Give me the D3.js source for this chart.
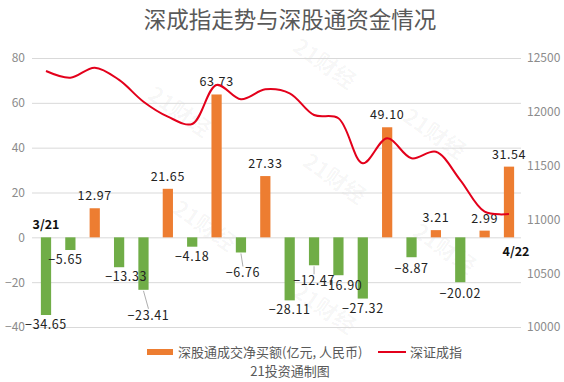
<!DOCTYPE html>
<html><head><meta charset="utf-8">
<script src="https://cdn.jsdelivr.net/npm/d3@7"></script>
<style>
html,body{margin:0;padding:0;background:#fff;}
svg{display:block;font-family:"Noto Sans CJK SC","Noto Sans",sans-serif;}
</style></head>
<body>
<svg id="chart" width="564" height="382"></svg>
<script>
const title = "深成指走势与深股通资金情况";
const dates = ["3/21","3/22","3/23","3/24","3/25","3/28","3/29","3/30","3/31","4/1","4/6","4/7","4/8","4/11","4/12","4/13","4/14","4/20","4/21","4/22"];
const netBuy = [-34.65,-5.65,12.97,-13.33,-23.41,21.65,-4.18,63.73,-6.76,27.33,-28.11,-12.47,-16.90,-27.32,49.10,-8.87,3.21,-20.02,2.99,31.54];
const szIndex = [12379,12317,12410,12296,12094,11955,11887,12249,12116,12209,12172,11970,11940,11521,11754,11568,11629,11366,11072,11050];
const leftTicks = [-40,-20,0,20,40,60,80];
const rightTicks = [10000,10500,11000,11500,12000,12500];
const legendBar = "深股通成交净买额(亿元, 人民币)";
const legendLine = "深证成指";
const credit = "21投资通制图";

const svg = d3.select("#chart");
const plot = {left:32, right:521, top:58, bottom:327};

const x = d3.scalePoint().domain(dates).range([46, 509]);
const step = x.step();
const barW = step * 0.42;
const yL = d3.scaleLinear().domain([-40, 80]).range([plot.bottom, plot.top]);
const yR = d3.scaleLinear().domain([10000, 12500]).range([plot.bottom, plot.top]);

// watermark
const wm = svg.append("g").attr("fill","#000").attr("fill-opacity",0.04)
  .attr("font-size",22).attr("font-weight","bold");
[[175,118],[200,232],[320,70],[330,185],[320,315],[430,140],[440,255]].forEach(p=>{
  wm.append("text").attr("transform",`translate(${p[0]},${p[1]}) rotate(35)`)
    .attr("text-anchor","middle").text("21财经");
});

// title
svg.append("text").attr("x",290).attr("y",28).attr("text-anchor","middle")
  .attr("font-size",22.5).attr("fill","#595959").text(title);

// grid
svg.append("g").selectAll("line").data(leftTicks).join("line")
  .attr("x1",plot.left).attr("x2",plot.right)
  .attr("y1",d=>yL(d)+0.5).attr("y2",d=>yL(d)+0.5)
  .attr("stroke","#d9d9d9").attr("stroke-width",1);

// left axis
const axL = svg.append("g").attr("transform",`translate(${plot.left-7},0)`)
  .call(d3.axisLeft(yL).tickValues(leftTicks).tickSize(0).tickPadding(0).tickFormat(d3.format("d")));
axL.select(".domain").remove();
axL.selectAll("text").attr("fill","#8c8c8c").attr("font-size",12).attr("font-family","Noto Sans CJK SC");

// right axis
const axR = svg.append("g").attr("transform",`translate(${plot.right+6},0)`)
  .call(d3.axisRight(yR).tickValues(rightTicks).tickSize(0).tickPadding(0).tickFormat(d3.format("d")));
axR.select(".domain").remove();
axR.selectAll("text").attr("fill","#8c8c8c").attr("font-size",12).attr("font-family","Noto Sans CJK SC");

// bars
svg.append("g").selectAll("rect").data(netBuy).join("rect")
  .attr("x",(d,i)=>x(dates[i])-barW/2)
  .attr("width",barW)
  .attr("y",d=>d>=0?yL(d):yL(0))
  .attr("height",d=>Math.abs(yL(d)-yL(0)))
  .attr("fill",d=>d>=0?"#ED7D31":"#70AD47");

// bar labels (with small nudges for crowded labels)
const nudge = {4:[5,16], 8:[2,11], 11:[0,6], 12:[3,1], 1:[-5,0], 3:[7,0], 17:[0,2], 15:[0,2]};
const lab = svg.append("g").attr("font-size",12.5).attr("fill","#222");
netBuy.forEach((d,i)=>{
  const cx = x(dates[i]);
  const n = nudge[i] || [0,0];
  const ly = d>=0 ? yL(d)-8 : yL(d)+14 + n[1];
  if (n[1] > 4 && d < 0) {
    lab.append("line").attr("x1",cx).attr("y1",yL(d)+1).attr("x2",cx+n[0]).attr("y2",ly-11)
      .attr("stroke","#999").attr("stroke-width",0.8);
  }
  lab.append("text").attr("x",cx+n[0]).attr("y",ly).attr("text-anchor","middle")
    .attr("letter-spacing",0.6).text(d.toFixed(2).replace("-","−"));
});

// index line
const line = d3.line().x((d,i)=>x(dates[i])).y(d=>yR(d)).curve(d3.curveCatmullRom.alpha(0.5));
svg.append("path").datum(szIndex).attr("d",line).attr("fill","none")
  .attr("stroke","#E3001B").attr("stroke-width",2);

// end date labels
const first = dates[0], last = dates[dates.length-1];
const endLabels = [
  {t:first, x:x(first), y:yL(0)-8},
  {t:last, x:x(last)+7, y:yL(0)+19}
];
endLabels.forEach(e=>{
  const t = svg.append("text").attr("x",e.x).attr("y",e.y).attr("text-anchor","middle")
    .attr("font-size",12.5).attr("font-weight","bold").attr("fill","#111").text(e.t);
  const bb = t.node().getBBox();
  svg.insert("rect", () => t.node()).attr("x",bb.x-2).attr("y",bb.y).attr("width",bb.width+4)
    .attr("height",bb.height).attr("fill","#fff");
});

// legend
const lg = svg.append("g");
lg.append("rect").attr("x",147).attr("y",349).attr("width",26).attr("height",6).attr("fill","#ED7D31");
lg.append("text").attr("x",178).attr("y",357).attr("font-size",13).attr("fill","#595959").text(legendBar);
lg.append("line").attr("x1",378).attr("x2",406).attr("y1",352).attr("y2",352).attr("stroke","#E3001B").attr("stroke-width",2);
lg.append("text").attr("x",410).attr("y",357).attr("font-size",13).attr("fill","#595959").text(legendLine);
svg.append("text").attr("x",290).attr("y",376).attr("text-anchor","middle")
  .attr("font-size",13).attr("fill","#595959").text(credit);
</script>
</body></html>
